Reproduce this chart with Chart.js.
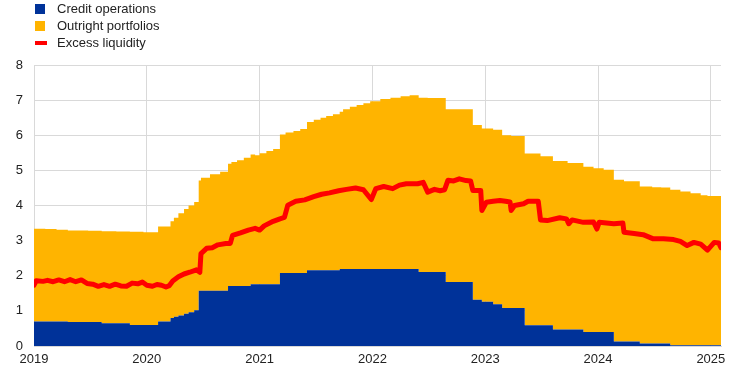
<!DOCTYPE html>
<html>
<head>
<meta charset="utf-8">
<script src="https://cdn.jsdelivr.net/npm/chart.js@4/dist/chart.umd.min.js"></script>
<style>
    html, body { margin: 0; padding: 0; background: #fff; }
    #wrap { position: relative; width: 744px; height: 373px; font-family: "Liberation Sans", Arial, sans-serif; }
    #legend { position: absolute; left: 35px; top: 0; font-size: 13px; color: #222; }
    .item { position: relative; height: 17px; line-height: 17px; padding-left: 22px; }
    .swatch { position: absolute; left: 0; top: 4px; width: 10px; height: 10px; }
    .swatch.line { top: 7px; width: 12px; height: 4px; }
    canvas { position: absolute; left: 0; top: 0; }
</style>
</head>
<body>
<div id="wrap">
    <canvas id="chart" width="744" height="373"></canvas>
    <div id="legend"></div>
</div>
<script>
// EUR trillions, dates as decimal years
const stackDates = [
    2019.00, 2019.10, 2019.20, 2019.30, 2019.48, 2019.60, 2019.73, 2019.85, 2019.97, 2020.10,
    2020.21, 2020.24, 2020.28, 2020.33, 2020.37, 2020.42, 2020.46, 2020.48, 2020.56, 2020.65,
    2020.72, 2020.75, 2020.80, 2020.86, 2020.92, 2020.96, 2021.00, 2021.06, 2021.12, 2021.18,
    2021.23, 2021.30, 2021.36, 2021.42, 2021.48, 2021.54, 2021.59, 2021.65, 2021.71, 2021.74,
    2021.80, 2021.86, 2021.92, 2021.98, 2022.07, 2022.16, 2022.25, 2022.33, 2022.41, 2022.49,
    2022.65, 2022.89, 2022.97, 2023.07, 2023.15, 2023.23, 2023.35, 2023.49, 2023.60, 2023.73,
    2023.87, 2023.96, 2024.05, 2024.14, 2024.23, 2024.37, 2024.48, 2024.56, 2024.64, 2024.73,
    2024.82, 2024.91, 2024.97, 2025.09
];
const creditOps = [
    0.70, 0.70, 0.70, 0.70, 0.68, 0.68, 0.65, 0.65, 0.60, 0.60,
    0.70, 0.80, 0.83, 0.87, 0.92, 0.96, 1.02, 1.57, 1.57, 1.57,
    1.57, 1.71, 1.71, 1.71, 1.71, 1.76, 1.76, 1.76, 1.76, 1.76,
    2.08, 2.08, 2.08, 2.08, 2.16, 2.16, 2.16, 2.16, 2.16, 2.19,
    2.19, 2.19, 2.19, 2.19, 2.19, 2.19, 2.19, 2.19, 2.19, 2.11,
    2.11, 1.82, 1.32, 1.26, 1.19, 1.08, 1.08, 0.59, 0.59, 0.47,
    0.47, 0.40, 0.40, 0.40, 0.13, 0.13, 0.07, 0.07, 0.07, 0.02,
    0.02, 0.02, 0.02, 0.02
];
const outright = [
    2.65, 2.64, 2.63, 2.61, 2.61, 2.60, 2.62, 2.61, 2.65, 2.64,
    2.70, 2.75, 2.82, 2.91, 2.98, 3.04, 3.08, 3.14, 3.22, 3.32,
    3.39, 3.48, 3.53, 3.58, 3.65, 3.69, 3.67, 3.73, 3.79, 3.85,
    3.94, 4.00, 4.04, 4.10, 4.22, 4.28, 4.34, 4.39, 4.44, 4.48,
    4.55, 4.62, 4.67, 4.72, 4.78, 4.84, 4.88, 4.92, 4.95, 4.96,
    4.95, 4.92, 4.97, 4.93, 4.97, 4.92, 4.90, 4.89, 4.81, 4.80,
    4.74, 4.70, 4.66, 4.62, 4.60, 4.56, 4.47, 4.45, 4.44, 4.43,
    4.38, 4.33, 4.27, 4.25
];

const excessDates = [
    2019.00, 2019.02, 2019.08, 2019.12, 2019.17, 2019.22, 2019.27, 2019.32, 2019.37, 2019.42,
    2019.47, 2019.52, 2019.57, 2019.62, 2019.67, 2019.72, 2019.77, 2019.82, 2019.87, 2019.92,
    2019.96, 2020.00, 2020.05, 2020.09, 2020.13, 2020.17, 2020.20, 2020.23, 2020.28, 2020.33,
    2020.38, 2020.44, 2020.47, 2020.48, 2020.53, 2020.58, 2020.63, 2020.70, 2020.74, 2020.76,
    2020.83, 2020.90, 2020.96, 2021.00, 2021.04, 2021.12, 2021.18, 2021.22, 2021.25, 2021.32,
    2021.40, 2021.48, 2021.55, 2021.62, 2021.70, 2021.77, 2021.85, 2021.92, 2021.99, 2022.03,
    2022.10, 2022.18, 2022.24, 2022.30, 2022.40, 2022.45, 2022.49, 2022.55, 2022.60, 2022.64,
    2022.67, 2022.72, 2022.77, 2022.83, 2022.87, 2022.89, 2022.96, 2022.97, 2023.01, 2023.07,
    2023.13, 2023.18, 2023.22, 2023.23, 2023.26, 2023.34, 2023.38, 2023.47, 2023.49, 2023.55,
    2023.66, 2023.72, 2023.74, 2023.77, 2023.87, 2023.96, 2023.99, 2024.01, 2024.14, 2024.22,
    2024.23, 2024.32, 2024.40, 2024.49, 2024.58, 2024.67, 2024.73, 2024.79, 2024.85, 2024.91,
    2024.97, 2025.03, 2025.07, 2025.09
];
const excessLiquidity = [
    1.73, 1.86, 1.84, 1.87, 1.83, 1.88, 1.83, 1.89, 1.83, 1.88,
    1.78, 1.76, 1.70, 1.75, 1.70, 1.76, 1.71, 1.70, 1.79, 1.77,
    1.82, 1.73, 1.70, 1.75, 1.73, 1.68, 1.72, 1.85, 1.97, 2.05,
    2.10, 2.17, 2.10, 2.63, 2.78, 2.80, 2.88, 2.92, 2.92, 3.15,
    3.22, 3.30, 3.35, 3.30, 3.42, 3.55, 3.62, 3.66, 4.01, 4.12,
    4.16, 4.25, 4.32, 4.36, 4.42, 4.46, 4.50, 4.45, 4.17, 4.48,
    4.54, 4.48, 4.58, 4.62, 4.62, 4.66, 4.38, 4.46, 4.42, 4.45,
    4.72, 4.70, 4.76, 4.71, 4.70, 4.43, 4.43, 3.86, 4.09, 4.12,
    4.14, 4.12, 4.10, 3.86, 4.00, 4.05, 4.12, 4.12, 3.59, 3.57,
    3.65, 3.62, 3.48, 3.59, 3.52, 3.53, 3.33, 3.52, 3.48, 3.50,
    3.24, 3.20, 3.17, 3.05, 3.05, 3.03, 2.98, 2.86, 2.95, 2.90,
    2.73, 2.95, 2.93, 2.80
];

const yearTicks = [2019, 2020, 2021, 2022, 2023, 2024, 2025];
const yTicks = [0, 1, 2, 3, 4, 5, 6, 7, 8];

const BLUE = "#003299";
const YELLOW = "#ffb400";
const RED = "#ff0000";
const GRID = "#d9d9d9";

const toPoints = (xs, ys) => xs.map((x, i) => ({ x: x, y: ys[i] }));

// html legend, one item per row like the original
const legendItems = [
    { label: "Credit operations", color: BLUE, line: false },
    { label: "Outright portfolios", color: YELLOW, line: false },
    { label: "Excess liquidity", color: RED, line: true },
];
document.getElementById("legend").innerHTML = legendItems
    .map((it) => `<div class="item"><span class="swatch${it.line ? " line" : ""}" style="background:${it.color}"></span>${it.label}</div>`)
    .join("");

const font = { family: '"Liberation Sans", Arial, sans-serif', size: 13 };

new Chart(document.getElementById("chart").getContext("2d"), {
    type: "line",
    data: {
        datasets: [
            {
                label: "Excess liquidity",
                data: toPoints(excessDates, excessLiquidity),
                borderColor: RED,
                borderWidth: 5,
                borderJoinStyle: "round",
                borderCapStyle: "round",
                pointRadius: 0,
                fill: false,
                stack: "excess",
            },
            {
                label: "Credit operations",
                data: toPoints(stackDates, creditOps),
                backgroundColor: BLUE,
                borderWidth: 0,
                pointRadius: 0,
                stepped: "after",
                fill: "origin",
                stack: "balance",
            },
            {
                label: "Outright portfolios",
                data: toPoints(stackDates, outright),
                backgroundColor: YELLOW,
                borderWidth: 0,
                pointRadius: 0,
                stepped: "after",
                fill: "-1",
                stack: "balance",
            },
        ],
    },
    options: {
        responsive: false,
        animation: false,
        layout: { padding: { top: 65, right: 23, left: 0, bottom: 0 } },
        plugins: {
            legend: { display: false },
            tooltip: { enabled: false },
        },
        scales: {
            x: {
                type: "linear",
                min: 2019,
                max: 2025.09,
                afterBuildTicks: (scale) => {
                    scale.ticks = yearTicks.map((v) => ({ value: v }));
                },
                afterFit: (scale) => {
                    scale.height = 27;
                },
                grid: { color: GRID, drawTicks: false },
                border: { color: GRID },
                ticks: {
                    autoSkip: false,
                    maxRotation: 0,
                    padding: 6,
                    color: "#222",
                    font: font,
                    callback: (v) => String(v),
                },
            },
            y: {
                stacked: true,
                min: 0,
                max: 8,
                afterBuildTicks: (scale) => {
                    scale.ticks = yTicks.map((v) => ({ value: v }));
                },
                afterFit: (scale) => {
                    scale.width = 34;
                },
                grid: { color: GRID, drawTicks: false },
                border: { color: GRID },
                ticks: {
                    padding: 11,
                    color: "#222",
                    font: font,
                },
            },
        },
    },
});
</script>
</body>
</html>
